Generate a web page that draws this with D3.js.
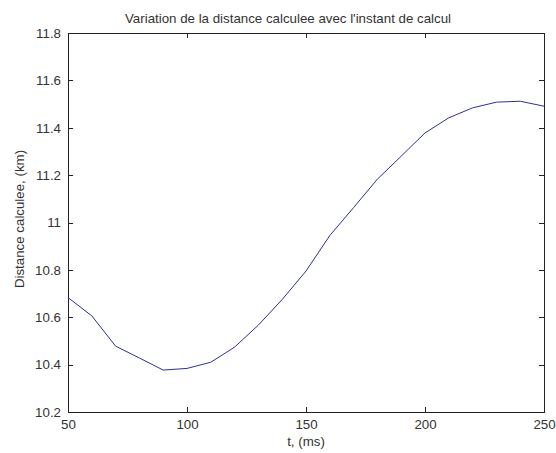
<!DOCTYPE html>
<html><head><meta charset="utf-8">
<script src="https://cdn.jsdelivr.net/npm/d3@7"></script>
<style>body{margin:0;background:#fff}svg{display:block}text{font-family:"Liberation Sans",Arial,sans-serif}</style>
</head><body><svg id="c" width="556" height="453"></svg>
<script>
const times = [50,60,70,80,90,100,110,120,130,140,150,160,170,180,190,200,210,220,230,240,250];
const distances = [10.683,10.606,10.478,10.428,10.377,10.384,10.41,10.474,10.567,10.675,10.795,10.945,11.063,11.183,11.28,11.378,11.442,11.484,11.508,11.512,11.491];
const xTicks = [50,100,150,200,250];
const yTicks = [10.2,10.4,10.6,10.8,11,11.2,11.4,11.6,11.8];
const titleText = "Variation de la distance calculee avec l'instant de calcul";
const xLabel = "t, (ms)";
const yLabel = "Distance calculee, (km)";

const svg = d3.select("#c");
const L=68,R=544,T=33,B=412;
const FS = 13.3;
const x = d3.scaleLinear().domain([50,250]).range([L,R]);
const y = d3.scaleLinear().domain([10.2,11.8]).range([B,T]);
const fmt = d => String(+d.toFixed(1));
const tc = "#333";

svg.append("rect").attr("x",L).attr("y",T).attr("width",R-L).attr("height",B-T)
  .attr("fill","none").attr("stroke","#222").attr("stroke-width",1).attr("shape-rendering","crispEdges");

function style(g){ g.select(".domain").remove(); g.selectAll("line").attr("stroke","#222").attr("shape-rendering","crispEdges");
  g.selectAll("text").attr("fill",tc).attr("font-size",FS); }

svg.append("g").attr("transform",`translate(0,${B})`)
  .call(d3.axisBottom(x).tickValues(xTicks).tickSize(-5).tickPadding(8).tickFormat(d=>d)).call(style);
svg.append("g").attr("transform",`translate(0,${T})`)
  .call(d3.axisTop(x).tickValues(xTicks).tickSize(-5).tickFormat("")).call(style);
svg.append("g").attr("transform",`translate(${L},0)`)
  .call(d3.axisLeft(y).tickValues(yTicks).tickSize(-5).tickPadding(7).tickFormat(fmt)).call(style);
svg.append("g").attr("transform",`translate(${R},0)`)
  .call(d3.axisRight(y).tickValues(yTicks).tickSize(-5).tickFormat("")).call(style);

svg.append("path").datum(times.map((t,i)=>[t,distances[i]]))
  .attr("fill","none").attr("stroke","#2f2f9c").attr("stroke-width",1)
  .attr("d", d3.line().x(d=>x(d[0])).y(d=>y(d[1])));

svg.append("text").attr("x",288).attr("y",23).attr("text-anchor","middle")
  .attr("fill",tc).attr("font-size",FS).text(titleText);
svg.append("text").attr("x",(L+R)/2).attr("y",446).attr("text-anchor","middle")
  .attr("fill",tc).attr("font-size",FS).text(xLabel);
svg.append("text").attr("transform",`translate(24,219) rotate(-90)`).attr("text-anchor","middle")
  .attr("fill",tc).attr("font-size",FS).text(yLabel);
</script></body></html>
